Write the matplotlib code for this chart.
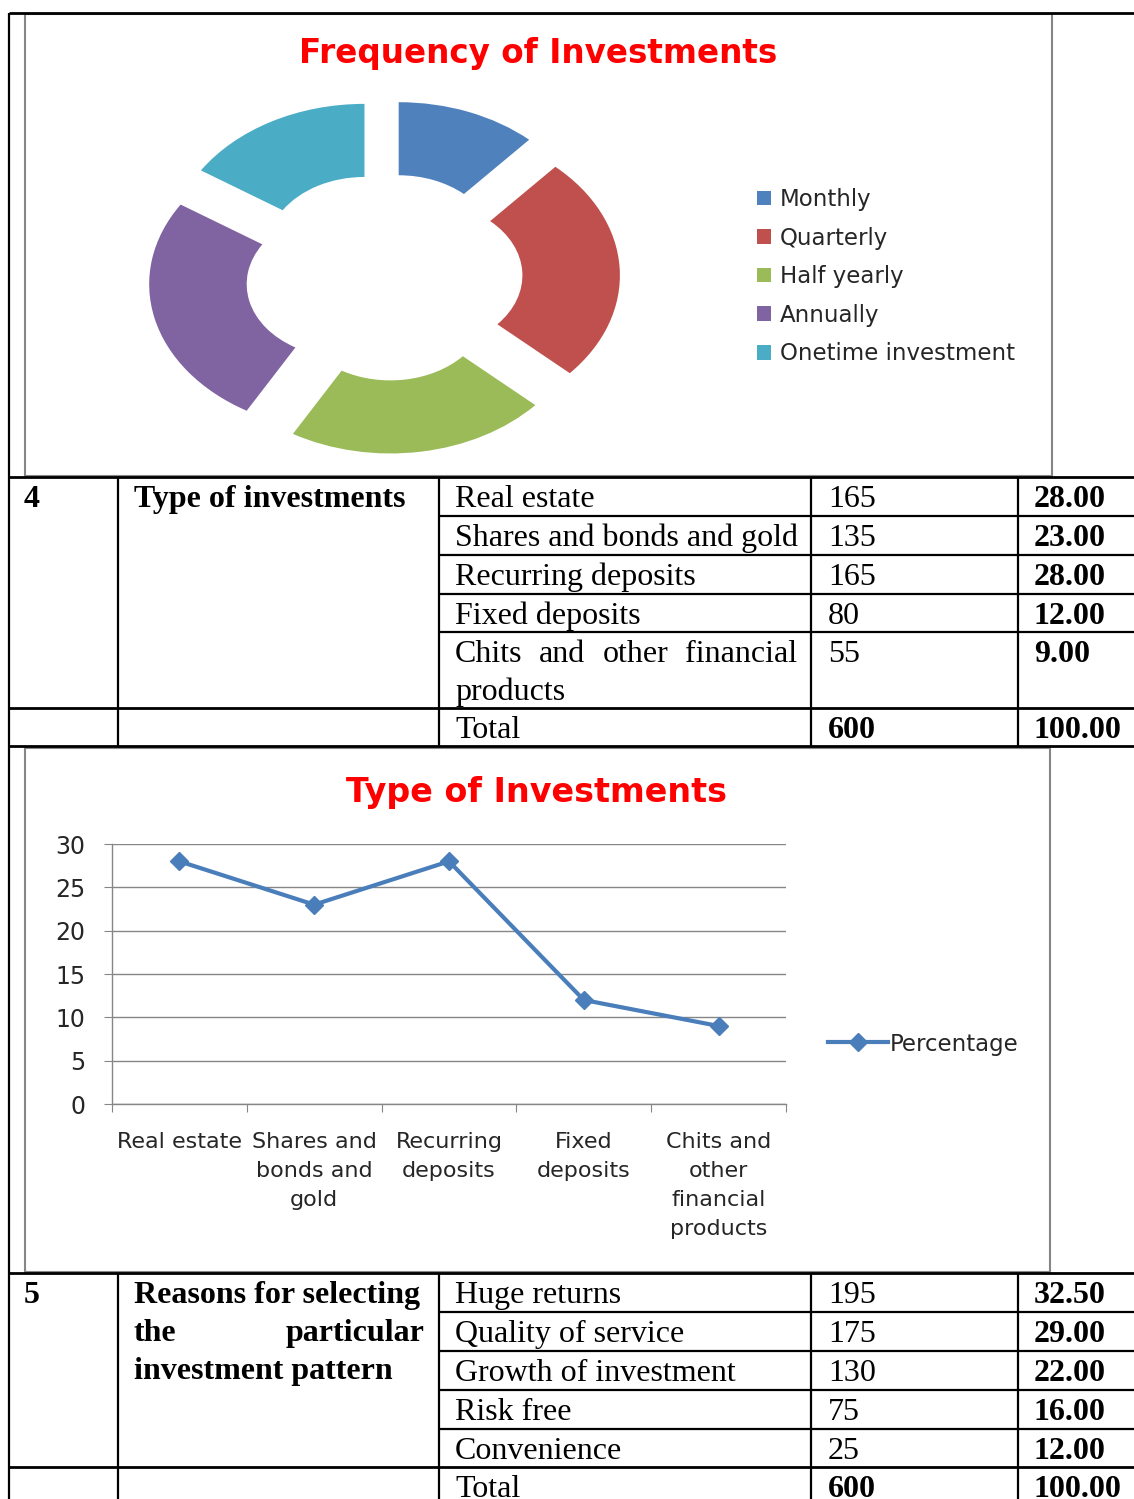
import matplotlib
matplotlib.use("Agg")
import matplotlib.pyplot as plt
from matplotlib.lines import Line2D
from matplotlib.patches import Patch, Rectangle

W, H = 1134, 1499

# ---- data ----
freq_labels = ["Monthly", "Quarterly", "Half yearly", "Annually", "Onetime investment"]
freq_values = [70, 150, 130, 155, 95]
freq_colors = ["#4F81BD", "#C0504D", "#9BBB59", "#8064A2", "#4BACC6"]

type_labels = ["Real estate", "Shares and bonds and gold", "Recurring deposits",
               "Fixed deposits", "Chits and other financial products"]
type_axis_labels = ["Real estate", "Shares and\nbonds and\ngold", "Recurring\ndeposits",
                    "Fixed\ndeposits", "Chits and\nother\nfinancial\nproducts"]
type_counts = [165, 135, 165, 80, 55]
type_pct = [28.00, 23.00, 28.00, 12.00, 9.00]

reason_labels = ["Huge returns", "Quality of service", "Growth of investment",
                 "Risk free", "Convenience"]
reason_counts = [195, 175, 130, 75, 25]
reason_pct = [32.50, 29.00, 22.00, 16.00, 12.00]

total_count = 600
total_pct = 100.00

SERIF = "Liberation Serif"
SANS = "DejaVu Sans"
TS = 23          # table font size
GRID = "#868686"
LINE_BLUE = "#4A7EBB"
LABEL = "#262626"

fig = plt.figure(figsize=(W / 100, H / 100), dpi=100)
fig.patch.set_facecolor("white")


def px_axes(l, t, r, b):
    return fig.add_axes([l / W, 1 - b / H, (r - l) / W, (b - t) / H])


bg = px_axes(0, 0, W, H)
bg.set_xlim(0, W)
bg.set_ylim(H, 0)
bg.axis("off")


def hline(y, x0, x1, lw=1.6, color="black"):
    bg.plot([x0, x1], [y, y], color=color, lw=lw, solid_capstyle="butt")


def vline(x, y0, y1, lw=1.6, color="black"):
    bg.plot([x, x], [y0, y1], color=color, lw=lw, solid_capstyle="butt")


def cell(x, y, s, bold=False, ha="left"):
    return bg.text(x, y, s, fontsize=TS, family=SERIF, ha=ha, va="baseline",
                   fontweight="bold" if bold else "normal")


def justify(words, x0, x1, y, bold=False):
    r = fig.canvas.get_renderer()
    objs = [cell(0, y, w, bold) for w in words]
    widths = [o.get_window_extent(r).width for o in objs]
    gap = (x1 - x0 - sum(widths)) / (len(words) - 1)
    x = x0
    for o, w in zip(objs, widths):
        o.set_x(x)
        x += w + gap


# ---- outer frame ----
hline(13, 9, W, lw=2)
vline(9, 13, H)

# chart boxes
bg.add_patch(Rectangle((25, 14), 1027, 462, fill=False, ec=GRID, lw=1.5))
bg.add_patch(Rectangle((25, 748), 1025, 524, fill=False, ec=GRID, lw=1.5))


def section(top, num, head_lines, labels, counts, pcts, edges):
    hline(top, 9, W, lw=2)
    bottom = edges[-1]
    for x in (118, 439, 811, 1018):
        vline(x, top, bottom)
    for y in edges[1:-2]:
        hline(y, 439, W)
    hline(edges[-2], 9, W, lw=2)
    hline(edges[-1], 9, W, lw=2)
    cell(24, top + 30, num, bold=True)
    for i, lab in enumerate(labels):
        y = edges[i] + 30
        if lab == "Chits and other financial products":
            justify(["Chits", "and", "other", "financial"], 455, 797, y)
            cell(455, y + 38, "products")
        else:
            cell(455, y, lab)
        cell(828, y, f"{counts[i]}")
        cell(1034, y, f"{pcts[i]:.2f}", bold=True)
    y = edges[-2] + 30
    cell(455, y, "Total")
    cell(828, y, f"{total_count}", bold=True)
    cell(1034, y, f"{total_pct:.2f}", bold=True)
    for j, hl in enumerate(head_lines):
        yy = top + 30 + 38 * j
        if isinstance(hl, list):
            justify(hl, 134, 424, yy, bold=True)
        else:
            cell(134, yy, hl, bold=True)


section(477, "4", ["Type of investments"], type_labels, type_counts, type_pct,
        [477, 516, 555, 594, 632, 708, 746])
section(1273, "5", ["Reasons for selecting", ["the", "particular"], "investment pattern"],
        reason_labels, reason_counts, reason_pct,
        [1273, 1312, 1351, 1390, 1429, 1467, 1510])

# ---- chart 1: exploded doughnut ----
bg.text(538, 53, "Frequency of Investments", color="#FF0000", fontsize=23.5,
        fontweight="bold", family=SANS, ha="center", va="center")

ax1 = px_axes(130.5, 87, 637.5, 467)
ax1.pie(freq_values, colors=freq_colors, startangle=90, counterclock=False,
        radius=1.0, explode=[0.21] * len(freq_values),
        wedgeprops=dict(width=0.5, linewidth=0))
ax1.set_aspect("auto")
ax1.set_xlim(-1.3, 1.3)
ax1.set_ylim(-1.3, 1.3)
ax1.axis("off")

handles = [Patch(facecolor=c, edgecolor="none") for c in freq_colors]
fig.legend(handles, freq_labels, loc="upper left",
           bbox_to_anchor=(757 / W, 1 - 188 / H), frameon=False,
           prop=dict(family=SANS, size=16.5), handlelength=0.6, handleheight=0.6,
           handletextpad=0.4, labelspacing=0.68, borderpad=0, borderaxespad=0,
           labelcolor=LABEL)

# ---- chart 2: line chart ----
bg.text(536, 792, "Type of Investments", color="#FF0000", fontsize=24,
        fontweight="bold", family=SANS, ha="center", va="center")

ax2 = px_axes(112, 844, 786, 1104)
xs = [i + 0.5 for i in range(len(type_pct))]
ax2.plot(xs, type_pct, color=LINE_BLUE, lw=3, marker="D", ms=9,
         label="Percentage", zorder=3)
ax2.set_xlim(0, len(type_pct))
ax2.set_ylim(0, 30)
ax2.set_yticks(range(0, 31, 5))
ax2.grid(axis="y", color=GRID, lw=1)
ax2.set_axisbelow(True)
for s in ("top", "right"):
    ax2.spines[s].set_visible(False)
for s in ("left", "bottom"):
    ax2.spines[s].set_color(GRID)
    ax2.spines[s].set_linewidth(1)
ax2.set_xticks(range(len(type_pct) + 1))
ax2.set_xticklabels([])
ax2.set_xticks(xs, minor=True)
ax2.set_xticklabels(type_axis_labels, minor=True, family=SANS, fontsize=16,
                    color=LABEL, linespacing=1.57)
ax2.tick_params(axis="x", which="major", length=6, color=GRID, direction="out")
ax2.tick_params(axis="x", which="minor", length=0, pad=20)
ax2.tick_params(axis="y", length=6, color=GRID, labelsize=17, pad=13,
                labelcolor=LABEL)
for t in ax2.get_yticklabels():
    t.set_family(SANS)
for t in ax2.get_xticklabels(minor=True):
    t.set_verticalalignment("top")

fig.legend(handles=[Line2D([], [], color=LINE_BLUE, lw=3, marker="D", ms=9)],
           labels=["Percentage"], loc="center left",
           bbox_to_anchor=(828 / W, 1 - 1044 / H), frameon=False,
           prop=dict(family=SANS, size=16.5), handlelength=2.6, handletextpad=0.1,
           borderpad=0, borderaxespad=0, labelcolor=LABEL)

fig.savefig("out.png", dpi=100)
